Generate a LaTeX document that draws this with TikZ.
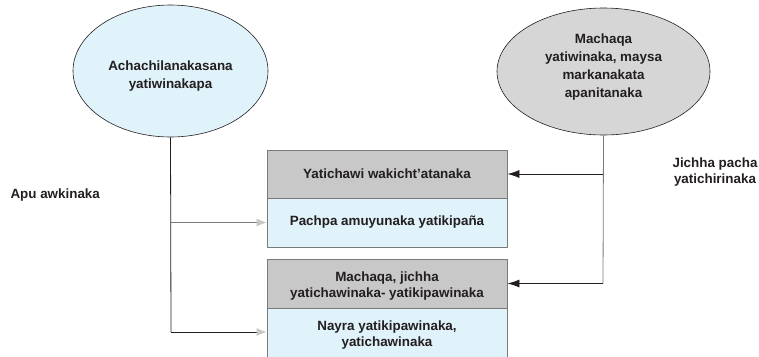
\documentclass[tikz,border=0pt]{standalone}
\usepackage{fontspec}
\setmainfont{Liberation Sans}
\usetikzlibrary{shapes.geometric,arrows.meta}

\definecolor{skyfill}{HTML}{E0F2FA}
\definecolor{headfill}{HTML}{C8C8C9}
\definecolor{ovalgray}{HTML}{D6D6D7}
\definecolor{inkgray}{HTML}{231F20}
\definecolor{tipgray}{HTML}{C6C6C6}
\definecolor{wiregray}{HTML}{7A7A7A}

\begin{document}
\begin{tikzpicture}[x=1pt,y=-1pt,line join=bevel,>={Latex[length=12pt,width=8pt]},
  every node/.style={font=\bfseries\fontsize{13.4}{15.5}\selectfont,text=inkgray,align=center},
  oval/.style={ellipse,draw=inkgray,line width=0.6pt,inner sep=0pt,
    font=\bfseries\fontsize{13.4}{18}\selectfont},
  headbox/.style={draw=wiregray,fill=headfill,minimum width=240pt,line width=0.8pt},
  bodybox/.style={draw=wiregray,fill=skyfill,minimum width=240pt,line width=0.8pt},
  grayarrow/.style={wiregray,line width=0.8pt,-{Latex[length=10pt,width=8pt,color=tipgray]}}]
  \useasboundingbox (0,0) rectangle (759,356);

  % ovals
  \node[oval,fill=skyfill,minimum width=195pt,minimum height=132pt] (achachila) at (170.5,71)
    {\raisebox{-5pt}[\height][\depth]{\begin{tabular}{@{}c@{}}Achachilanakasana\\yatiwinakapa\end{tabular}}};
  \node[oval,fill=ovalgray,minimum width=213pt,minimum height=127pt] (machaqa) at (603.5,71.5)
    {\raisebox{5pt}[\height][\depth]{\begin{tabular}{@{}c@{}}Machaqa\\yatiwinaka, maysa\\markanakata\\apanitanaka\end{tabular}}};

  % boxes
  \node[headbox,minimum height=48pt] (yatichawi) at (387,174) {Yatichawi wakicht’atanaka};
  \node[bodybox,minimum height=49pt] (pachpa) at (387,222.5) {Pachpa amuyunaka yatikipaña};
  \node[headbox,minimum height=49pt] (jichha) at (387,283.5)
    {\raisebox{-3pt}[\height][\depth]{\begin{tabular}{@{}c@{}}Machaqa, jichha\\yatichawinaka- yatikipawinaka\end{tabular}}};
  \node[bodybox,minimum height=54pt] (nayra) at (387,335) {Nayra yatikipawinaka,\\yatichawinaka};

  % labels
  \node[anchor=west] (apu) at (7,195) {Apu awkinaka};
  \node (jichhapacha) at (715,172) {Jichha pacha\\yatichirinaka};

  \coordinate (lfork) at (171,222.5);
  \coordinate (lbend) at (171,332);
  \coordinate (rfork) at (603,174);
  \coordinate (rbend) at (603,283.5);

  \draw[inkgray,line width=0.8pt] (achachila.south) -- (lbend);
  \draw[grayarrow] (lfork) -- (pachpa.west);
  \draw[grayarrow,draw=inkgray] (lbend) -- (nayra.west |- lbend);

  \draw[wiregray,line width=0.8pt] (machaqa.south) -- (rbend);
  \draw[inkgray,line width=0.8pt,->] (rfork) -- (yatichawi.east);
  \draw[inkgray,line width=0.8pt,->] (rbend) -- (jichha.east);
\end{tikzpicture}
\end{document}
